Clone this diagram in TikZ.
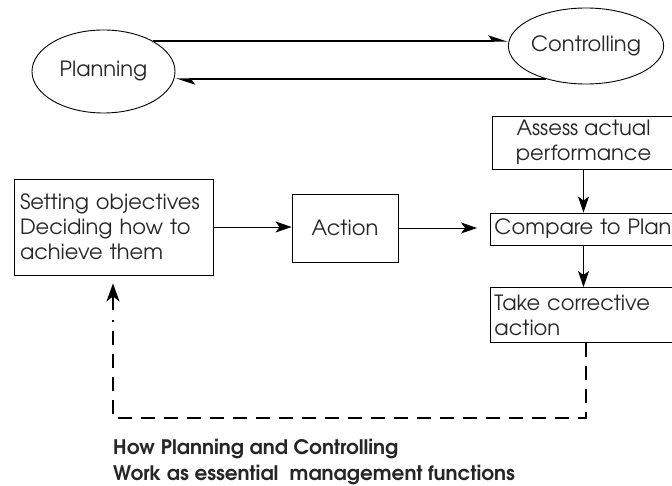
\documentclass[tikz,border=0pt]{standalone}
\usepackage{fontspec}
\setmainfont{TeX Gyre Adventor}
\usetikzlibrary{shapes.geometric,arrows.meta}
\begin{document}
\begin{tikzpicture}[x=1pt,y=-1pt,
  txt/.style={font=\fontsize{21}{25}\selectfont, text=black!85},
  ell/.style={ellipse, draw, line width=0.9pt, inner sep=0pt, txt},
  box/.style={draw, line width=0.9pt, rectangle, inner sep=0pt, txt},
  arr/.style={line width=0.9pt, -{Stealth[length=16pt,width=11pt,inset=4pt]}},
  harp/.style={line width=1.8pt, -{Stealth[harpoon,length=17pt,width=11pt,inset=4pt]}},
  dashline/.style={line width=2.2pt, dash pattern=on 14pt off 9pt},
]
\useasboundingbox (0,0) rectangle (672,486);
\clip (0,0) rectangle (672,486);
\node[ell, minimum width=143pt, minimum height=83pt] (plan) at (103.5,71.5) {Planning};
\node[ell, minimum width=146pt, minimum height=76pt] (ctrl) at (586,46) {Controlling};
\draw[harp] (plan.32) -- (plan.32 -| ctrl.west);
\draw[harp] (ctrl.220) -- (ctrl.220 -| plan.east);

\node[box, minimum width=183pt, minimum height=53pt, align=center] (assess) at (583.5,142.5) {Assess actual\\performance};
\node[box, anchor=west, minimum width=210pt, minimum height=32pt, text width=202pt, align=left, inner xsep=4pt] (compare) at (490,229) {Compare to Plan};
\node[box, anchor=north west, minimum width=210pt, minimum height=55pt, text width=202pt, align=left, inner xsep=4pt] (take) at (490,287) {Take corrective\\action};
\node[box, minimum width=199pt, minimum height=96pt, text width=187pt, align=left, inner xsep=6pt] (setting) at (113.5,227) {Setting objectives\\Deciding how to\\achieve them};
\node[box, minimum width=106pt, minimum height=68pt] (action) at (345,228) {Action};

\draw[arr] (setting.east) -- (setting.east -| action.west);
\draw[arr, shorten >=13pt] (action.east) -- (action.east -| compare.west);
\draw[arr] (assess.south) -- (assess.south |- compare.north);
\draw[arr] (compare.south -| assess.south) -- (take.north -| assess.south);

\coordinate (dr) at (586,418);
\coordinate (dl) at (113,418);
\draw[dashline] (take.south -| dr) -- (dr) -- (dl) -- ([yshift=-45pt]setting.south -| dl);
\draw[line width=2.2pt, -{Stealth[length=18pt,width=13pt,inset=5pt]}, shorten >=8pt] ([yshift=-35pt]setting.south -| dl) -- (setting.south -| dl);

\node[anchor=base west, font=\bfseries\fontsize{20}{26}\selectfont, text=black!85, align=left, inner sep=0pt] (cap) at (113,480) {How Planning and Controlling\\Work as essential\ \ management functions};
\end{tikzpicture}
\end{document}
